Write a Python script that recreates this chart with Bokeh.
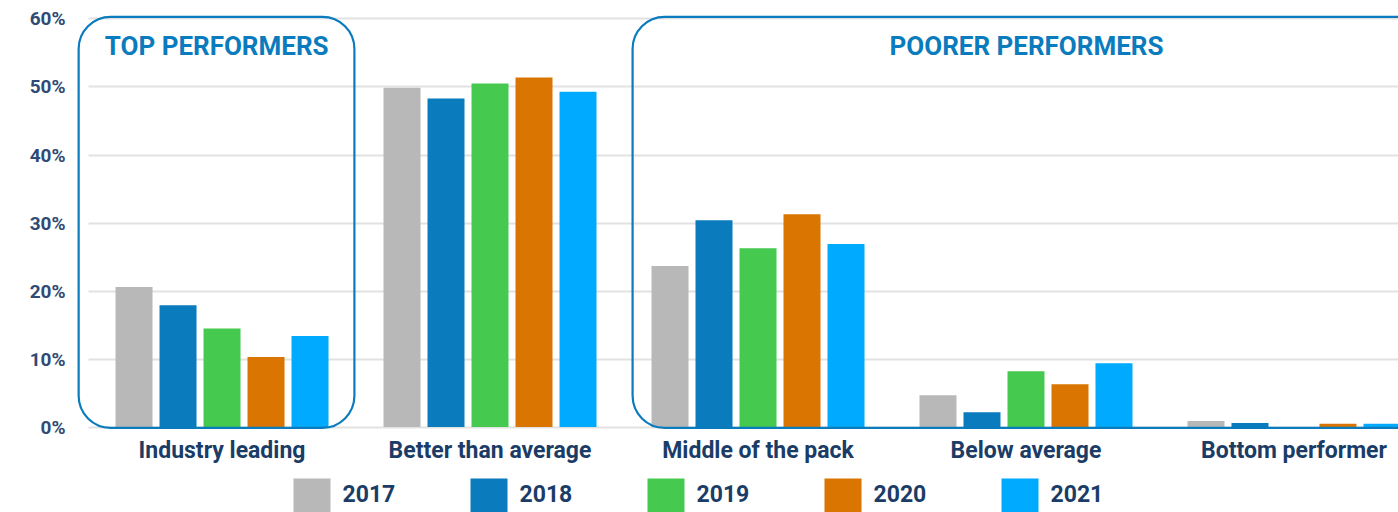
from bokeh.plotting import figure
from bokeh.layouts import column
from bokeh.models import (Range1d, FixedTicker, PrintfTickFormatter, BoxAnnotation,
                          Label, ColumnDataSource)
from bokeh.core.properties import value
from bokeh.transform import dodge
from bokeh.embed import file_html
from bokeh.resources import INLINE

categories = ["Industry leading", "Better than average", "Middle of the pack",
              "Below average", "Bottom performer"]
years = ["2017", "2018", "2019", "2020", "2021"]
v2017 = [20.6, 49.9, 23.7, 4.7, 0.9]
v2018 = [17.9, 48.3, 30.4, 2.2, 0.6]
v2019 = [14.5, 50.5, 26.3, 8.2, 0.0]
v2020 = [10.3, 51.4, 31.3, 6.3, 0.5]
v2021 = [13.4, 49.3, 26.9, 9.4, 0.5]
series = [v2017, v2018, v2019, v2020, v2021]
colors = ["#b8b8b8", "#0a7bbd", "#45c94f", "#d97500", "#00aaff"]
y_ticks = [0, 10, 20, 30, 40, 50, 60]

NAVY = "#1b3c66"
BOXBLUE = "#0a7bbd"
FONT = "Roboto"
CAT_PX = 268  # pixels per category

# ---------------- main chart ----------------
p = figure(width=1398, height=470, output_backend="svg",
           toolbar_location=None, min_border_left=76, min_border_top=8,
           min_border_right=0, min_border_bottom=40,
           x_range=Range1d(-0.543, 4.390), y_range=Range1d(-0.5, 61.54))
p.outline_line_color = None
p.background_fill_color = "white"

src = ColumnDataSource(dict(x=list(range(len(categories))),
                            **{"y" + y: s for y, s in zip(years, series)}))
step = 44 / CAT_PX
bw = 37 / CAT_PX
for i, (yr, col) in enumerate(zip(years, colors)):
    p.vbar(x=dodge("x", (i - 2) * step, range=p.x_range), top="y" + yr,
           width=bw, bottom=0, source=src, fill_color=col, line_color=None)

p.xgrid.visible = False
p.ygrid.ticker = FixedTicker(ticks=y_ticks)
p.ygrid.grid_line_color = "#e2e2e2"
p.ygrid.grid_line_width = 2
p.ygrid.cross_bounds = (-0.498, 4.6)

p.yaxis.ticker = FixedTicker(ticks=y_ticks)
p.yaxis.formatter = PrintfTickFormatter(format="%d%%")
p.yaxis.axis_line_color = None
p.yaxis.major_tick_line_color = None
p.yaxis.minor_tick_line_color = None
p.yaxis.major_tick_out = 0
p.yaxis.major_label_standoff = 11
p.yaxis.major_label_text_font = FONT
p.yaxis.major_label_text_font_style = "bold"
p.yaxis.major_label_text_font_size = "19px"
p.yaxis.major_label_text_color = "#2f4b75"

p.xaxis.ticker = FixedTicker(ticks=list(range(len(categories))))
p.xaxis.major_label_overrides = {i: c for i, c in enumerate(categories)}
p.xaxis.axis_line_color = None
p.xaxis.major_tick_line_color = None
p.xaxis.minor_tick_line_color = None
p.xaxis.major_tick_out = 0
p.xaxis.major_label_standoff = 6
p.xaxis.major_label_text_font = FONT
p.xaxis.major_label_text_font_style = "bold"
p.xaxis.major_label_text_font_size = "23px"
p.xaxis.major_label_text_color = NAVY

top_box = BoxAnnotation(left=-0.535, right=0.494, bottom=-0.1, top=60.3,
                        fill_color=None, fill_alpha=0, line_color=BOXBLUE,
                        line_alpha=1.0, line_width=2.2, border_radius=32,
                        level="overlay")
poor_box = BoxAnnotation(left=1.532, right=4.7, bottom=-0.1, top=60.3,
                         fill_color=None, fill_alpha=0, line_color=BOXBLUE,
                         line_alpha=1.0, line_width=2.2, border_radius=32,
                         level="overlay")
p.add_layout(top_box)
p.add_layout(poor_box)

p.add_layout(Label(x=-0.02, y=56.0, text="TOP PERFORMERS", text_align="center",
                   text_baseline="middle", text_font=FONT, text_font_style="bold",
                   text_font_size="26px", text_color=BOXBLUE))
p.add_layout(Label(x=3.002, y=56.0, text="POORER PERFORMERS", text_align="center",
                   text_baseline="middle", text_font=FONT, text_font_style="bold",
                   text_font_size="26px", text_color=BOXBLUE))

# ---------------- legend strip (frame aligned with main chart: starts at x=76) ----------------
lg = figure(width=1398, height=42, output_backend="svg", toolbar_location=None,
            min_border=0, x_axis_type=None, y_axis_type=None,
            x_range=Range1d(76, 1398), y_range=Range1d(0, 42))
lg.outline_line_color = None
lg.grid.visible = False

leg_left, leg_step, sq_w = 293, 177, 37
lsrc = ColumnDataSource(dict(
    sx=[leg_left + sq_w / 2 + i * leg_step for i in range(len(years))],
    tx=[leg_left + 49 + i * leg_step for i in range(len(years))],
    label=years, color=colors))
lg.rect(x="sx", y=17, width=sq_w, height=34, source=lsrc,
        fill_color="color", line_color=None)
lg.text(x="tx", y=19, text="label", source=lsrc, text_align="left",
        text_baseline="middle", text_font=value(FONT), text_font_style="bold",
        text_font_size="23px", text_color=NAVY)

layout = column(p, lg, spacing=0)
open("out.html", "w").write(file_html(layout, INLINE))
